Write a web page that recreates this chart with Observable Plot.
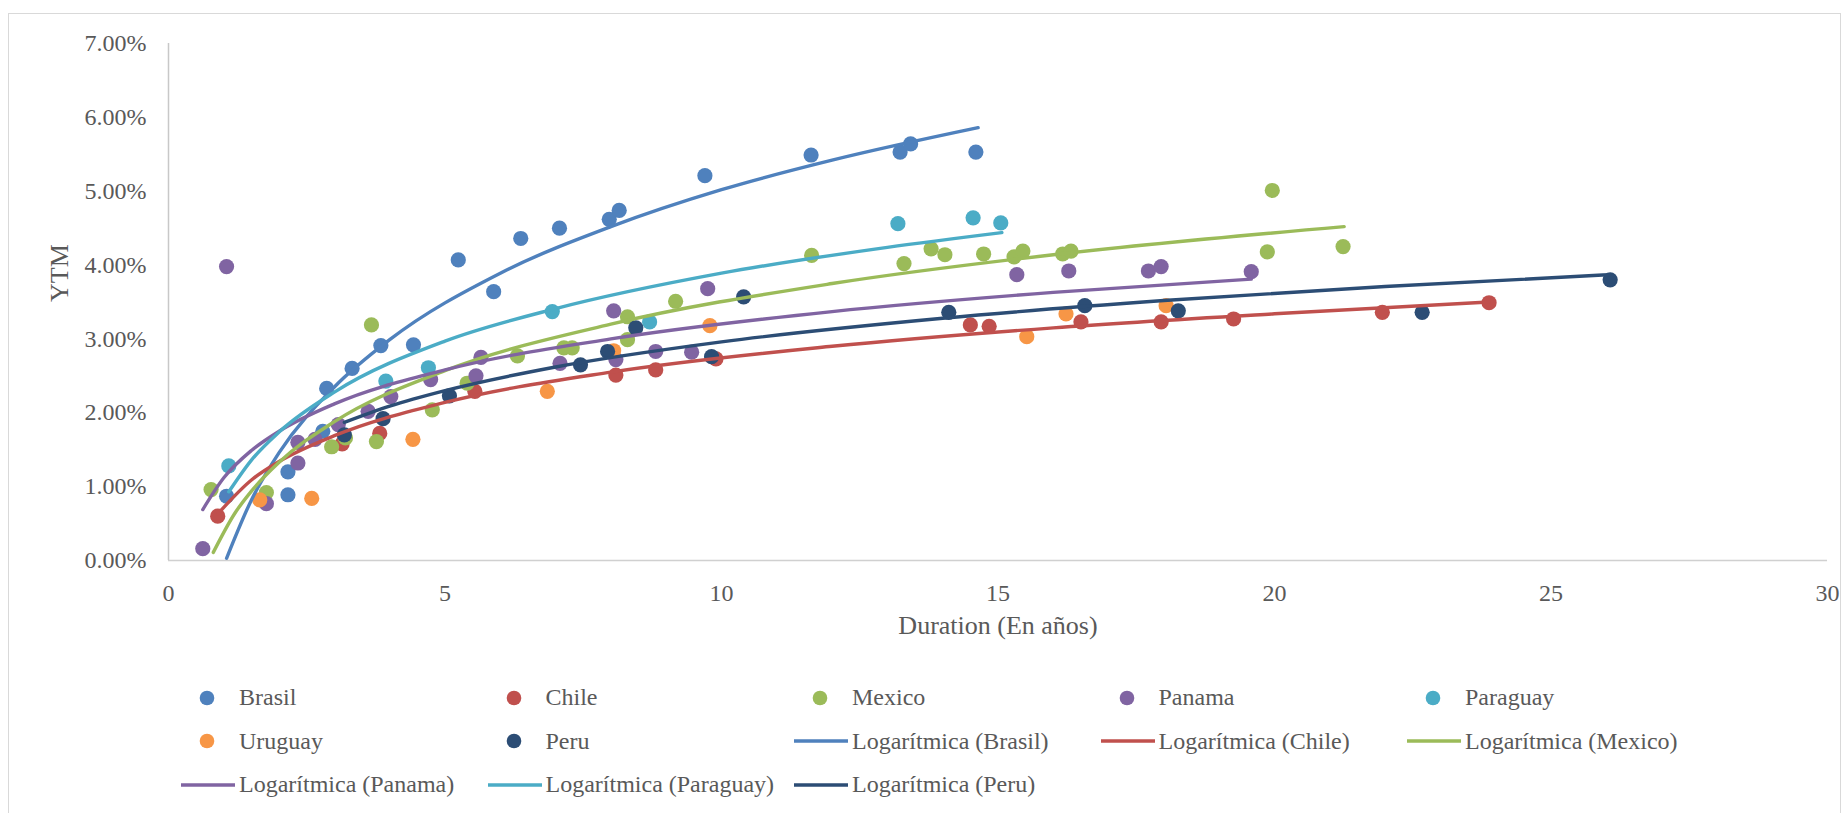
<!DOCTYPE html>
<html>
<head>
<meta charset="utf-8">
<script src="https://cdn.jsdelivr.net/npm/d3@7"></script>
<script src="https://cdn.jsdelivr.net/npm/@observablehq/plot@0.6"></script>
<style>
  html, body { margin: 0; padding: 0; background: #fff; }
  body { width: 1844px; height: 813px; position: relative; overflow: hidden; font-family: "Liberation Serif", serif; }
  #border { position: absolute; left: 8px; top: 13px; width: 1833px; height: 830px; border: 1.5px solid #D9D9D9; box-sizing: border-box; }
  #chart { position: absolute; left: 0; top: 0; }
  #legend { position: absolute; left: 181px; top: 676px; display: grid; grid-template-columns: repeat(5, 306.5px); grid-auto-rows: 43.5px; color: #595959; font-size: 24px; }
  .item { display: flex; align-items: center; white-space: nowrap; }
  .item svg { flex: none; margin-right: 4px; }
</style>
</head>
<body>
<div id="border"></div>
<div id="chart"></div>
<div id="legend"></div>
<script>
// Series names and colours
const countries = ["Brasil", "Chile", "Mexico", "Panama", "Paraguay", "Uruguay", "Peru"];
const colors = ["#4F81BD", "#C0504D", "#9BBB59", "#8064A2", "#4BACC6", "#F79646", "#2C4D75"];

// Scatter points: [duration (years), YTM (%)]
const brasil = [[1.05,0.87],[2.16,0.89],[2.16,1.20],[2.79,1.75],[2.86,2.33],[3.32,2.60],[3.84,2.91],[4.43,2.92],[5.24,4.07],[5.88,3.64],[6.37,4.36],[7.07,4.50],[7.97,4.62],[8.15,4.74],[9.70,5.21],[11.62,5.49],[13.23,5.53],[13.42,5.64],[14.60,5.53]];
const chile = [[0.89,0.60],[3.14,1.58],[3.82,1.72],[5.54,2.29],[8.09,2.51],[8.81,2.58],[9.90,2.73],[14.50,3.19],[14.84,3.17],[16.50,3.23],[17.95,3.23],[19.26,3.27],[21.95,3.36],[23.88,3.49]];
const mexico = [[0.77,0.96],[1.77,0.92],[2.95,1.54],[3.20,1.66],[3.67,3.19],[3.76,1.61],[4.77,2.04],[5.40,2.40],[6.31,2.77],[7.15,2.88],[7.30,2.88],[8.30,3.30],[8.30,2.99],[9.17,3.51],[11.63,4.13],[13.30,4.02],[13.79,4.22],[14.04,4.14],[14.74,4.15],[15.29,4.11],[15.45,4.19],[16.17,4.15],[16.32,4.19],[19.87,4.18],[19.96,5.01],[21.24,4.25]];
const panama = [[0.62,0.16],[1.05,3.98],[1.77,0.77],[2.34,1.32],[2.34,1.60],[2.65,1.64],[3.07,1.84],[3.61,2.02],[4.02,2.22],[4.74,2.45],[5.56,2.50],[5.65,2.75],[7.08,2.67],[8.05,3.38],[8.09,2.72],[8.81,2.83],[9.46,2.82],[9.75,3.68],[15.34,3.87],[16.28,3.92],[17.72,3.92],[17.95,3.98],[19.58,3.91]];
const paraguay = [[1.09,1.28],[3.93,2.43],[4.70,2.61],[6.94,3.37],[8.70,3.23],[13.19,4.56],[14.55,4.64],[15.05,4.57]];
const uruguay = [[1.65,0.82],[2.59,0.84],[4.42,1.64],[6.85,2.29],[8.05,2.84],[9.79,3.18],[15.52,3.03],[16.23,3.34],[18.04,3.45]];
const peru = [[3.18,1.70],[3.88,1.92],[5.08,2.23],[7.45,2.65],[7.94,2.83],[8.45,3.15],[9.82,2.76],[10.40,3.57],[14.11,3.36],[16.57,3.45],[18.26,3.38],[22.67,3.36],[26.07,3.80]];

// Logarithmic trendlines, points: [duration, YTM (%)]
const trendBrasil = [[1.05,0.03],[1.5,0.82],[2,1.46],[3,2.35],[4,2.99],[6,3.89],[8,4.52],[10,5.02],[12,5.42],[14.64,5.86]];
const trendChile = [[0.89,0.63],[1.5,1.09],[2,1.34],[3,1.69],[5,2.14],[8,2.55],[12,2.90],[16,3.15],[20,3.34],[23.88,3.50]];
const trendMexico = [[0.81,0.11],[1.2,0.64],[1.5,0.94],[2,1.33],[3,1.88],[5,2.57],[8,3.20],[12,3.75],[16,4.14],[21.26,4.52]];
const trendPanama = [[0.62,0.69],[1,1.12],[1.5,1.49],[2,1.75],[3,2.12],[5,2.58],[8,3.00],[12,3.37],[16,3.63],[19.58,3.81]];
const trendParaguay = [[1.09,0.93],[1.5,1.36],[2,1.74],[3,2.28],[5,2.97],[7,3.41],[10,3.89],[13,4.24],[15.07,4.44]];
const trendPeru = [[3.18,1.87],[4,2.09],[5,2.30],[7,2.62],[10,2.96],[14,3.28],[18,3.52],[22,3.71],[26.07,3.87]];

// Axis ticks
const xTicks = [0, 5, 10, 15, 20, 25, 30];
const yTicks = [0, 1, 2, 3, 4, 5, 6, 7];

const pointSets = [brasil, chile, mexico, panama, paraguay, uruguay, peru];
const points = pointSets.flatMap((s, i) => s.map(([x, y]) => ({country: countries[i], x, y})));
const trendSets = [["Brasil", trendBrasil], ["Chile", trendChile], ["Mexico", trendMexico], ["Panama", trendPanama], ["Paraguay", trendParaguay], ["Peru", trendPeru]];
const trends = trendSets.flatMap(([c, s]) => s.map(([x, y]) => ({country: c, x, y})));

const chart = Plot.plot({
  width: 1844,
  height: 650,
  marginLeft: 168,
  marginRight: 17,
  marginTop: 43,
  marginBottom: 90,
  style: {color: "#595959", fontFamily: "Liberation Serif, serif", fontSize: "24px", background: "transparent"},
  x: {domain: [0, 30], ticks: xTicks},
  y: {domain: [0, 7], ticks: yTicks},
  color: {domain: countries, range: colors},
  marks: [
    Plot.axisX({ticks: xTicks, tickSize: 0, tickPadding: 23, label: null, tickFormat: d => String(d)}),
    Plot.axisY({ticks: yTicks, tickSize: 0, tickPadding: 22, label: null, tickFormat: d => d.toFixed(2) + "%"}),
    Plot.ruleX([0], {y1: 0, y2: 7, stroke: "#C8C8C8", strokeWidth: 1.5}),
    Plot.ruleY([0], {x1: 0, x2: 30, stroke: "#D0D0D0", strokeWidth: 1.5}),
    Plot.dot(points, {x: "x", y: "y", fill: "country", r: 7.6, stroke: null}),
    Plot.line(trends, {x: "x", y: "y", z: "country", stroke: "country", strokeWidth: 3.4, curve: "monotone-x", strokeLinecap: "round"}),
    Plot.text(["YTM"], {frameAnchor: "left", dx: -109, rotate: -90, fill: "#595959", fontSize: 26}),
    Plot.text(["Duration (En años)"], {frameAnchor: "bottom", dy: 73, fill: "#595959", fontSize: 26})
  ]
});
document.getElementById("chart").appendChild(chart);

// Legend
const legendItems = [
  ...countries.map((c, i) => ({label: c, color: colors[i], kind: "dot"})),
  ...trendSets.map(([c]) => ({label: "Logarítmica (" + c + ")", color: colors[countries.indexOf(c)], kind: "line"}))
];
const legend = document.getElementById("legend");
for (const it of legendItems) {
  const div = document.createElement("div");
  div.className = "item";
  const sw = it.kind === "dot"
    ? `<svg width="54" height="18"><circle cx="26" cy="9" r="7.3" fill="${it.color}"/></svg>`
    : `<svg width="54" height="18"><line x1="0" x2="54" y1="9" y2="9" stroke="${it.color}" stroke-width="3.6"/></svg>`;
  div.innerHTML = sw + `<span>${it.label}</span>`;
  legend.appendChild(div);
}
</script>
</body>
</html>
